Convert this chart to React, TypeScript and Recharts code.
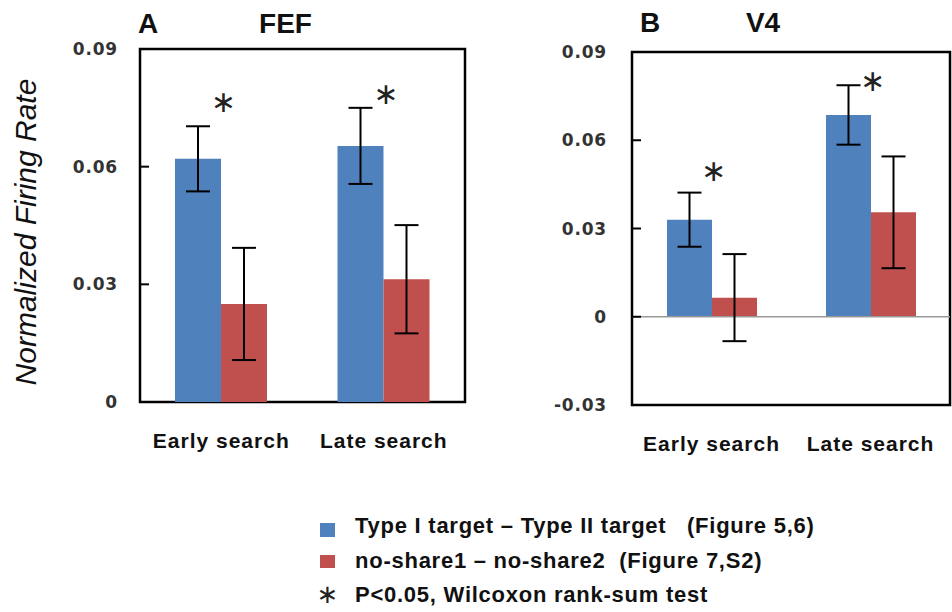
import React from 'react';
import {
  ComposedChart,
  Bar,
  XAxis,
  YAxis,
  ErrorBar,
  ReferenceArea,
  ReferenceLine,
  Line,
} from 'recharts';

const categories = ['Early search', 'Late search'];

const fefTypeDiff = [0.062, 0.0653];
const fefTypeErr = [0.0083, 0.0097];
const fefShareDiff = [0.025, 0.0313];
const fefShareErr = [0.0143, 0.0138];
const fefStar = [0.0762, 0.0783];

const v4TypeDiff = [0.033, 0.0686];
const v4TypeErr = [0.0092, 0.0101];
const v4ShareDiff = [0.0065, 0.0355];
const v4ShareErr = [0.0148, 0.019];
const v4Star = [0.0493, 0.0799];

const fefTicks = [0, 0.03, 0.06, 0.09];
const v4Ticks = [-0.03, 0, 0.03, 0.06, 0.09];

const legendLabels = [
  'Type I target \u2013 Type II target   (Figure 5,6)',
  'no-share1 \u2013 no-share2  (Figure 7,S2)',
  'P<0.05, Wilcoxon rank-sum test',
];

const BLUE = '#4F81BD';
const RED = '#C0504D';

const fefData = categories.map((cat, i) => ({
  cat,
  type: fefTypeDiff[i],
  typeErr: fefTypeErr[i],
  share: fefShareDiff[i],
  shareErr: fefShareErr[i],
  star: fefStar[i],
}));

const v4Data = categories.map((cat, i) => ({
  cat,
  type: v4TypeDiff[i],
  typeErr: v4TypeErr[i],
  share: v4ShareDiff[i],
  shareErr: v4ShareErr[i],
  star: v4Star[i],
}));

const fmt = (v: number) => (v === 0 ? '0' : v.toFixed(2));

const tickStyle = {
  fontFamily: '"DejaVu Sans", Verdana, sans-serif',
  fontWeight: 'bold',
  fontSize: 17,
  fill: '#333',
  letterSpacing: 0.8,
};

const catStyle = {
  fontFamily: '"Liberation Sans", Arial, sans-serif',
  fontWeight: 'bold',
  fontSize: 21,
  fill: '#111',
  letterSpacing: 1,
};

const STAR_FONT = '"DejaVu Sans", sans-serif';
const STAR_SIZE = 30;
const STAR_GLYPH = '\u2217';

const renderStar = (p: any) => {
  if (p.cx == null || p.cy == null) return <g key={p.index} />;
  return (
    <text
      key={p.index}
      x={p.cx + 2}
      y={p.cy + STAR_SIZE * 0.3}
      textAnchor="middle"
      fontSize={STAR_SIZE}
      fontFamily={STAR_FONT}
      fill="#222"
    >
      {STAR_GLYPH}
    </text>
  );
};

function Panel({
  data,
  ticks,
  domain,
  width,
  height,
  margin,
  barSize,
  tickMargin,
  zeroLine,
}: any) {
  return (
    <ComposedChart
      width={width}
      height={height}
      data={data}
      margin={margin}
      barGap={0}
      barSize={barSize}
    >
      <XAxis
        dataKey="cat"
        tickLine={false}
        axisLine={false}
        tickSize={0}
        tickMargin={31}
        height={50}
        tick={catStyle}
        interval={0}
      />
      <YAxis
        type="number"
        domain={domain}
        ticks={ticks}
        tickFormatter={fmt}
        width={60}
        axisLine={false}
        tickSize={-9}
        tickMargin={tickMargin}
        tickLine={{ stroke: '#000', strokeWidth: 2 }}
        tick={tickStyle}
        allowDataOverflow
      />
      {zeroLine ? <ReferenceLine y={0} stroke="#999" strokeWidth={1.5} /> : null}
      <Bar dataKey="type" fill={BLUE} isAnimationActive={false}>
        <ErrorBar dataKey="typeErr" width={12} stroke="#000" strokeWidth={2} />
      </Bar>
      <Bar dataKey="share" fill={RED} isAnimationActive={false}>
        <ErrorBar dataKey="shareErr" width={12} stroke="#000" strokeWidth={2} />
      </Bar>
      <Line
        dataKey="star"
        stroke="none"
        dot={renderStar}
        activeDot={false}
        isAnimationActive={false}
        legendType="none"
      />
      <ReferenceArea
        y1={domain[0]}
        y2={domain[1]}
        fill="none"
        fillOpacity={0}
        stroke="#000"
        strokeWidth={2.5}
        ifOverflow="visible"
      />
    </ComposedChart>
  );
}

export default function App() {
  const textFont = '"Liberation Sans", Arial, sans-serif';
  return (
    <div
      style={{
        position: 'absolute',
        left: 0,
        top: 0,
        width: 952,
        height: 612,
        background: '#fff',
        overflow: 'hidden',
      }}
    >
      <div style={{ position: 'absolute', left: 0, top: 0 }}>
        <Panel
          data={fefData}
          ticks={fefTicks}
          domain={[0, 0.09]}
          width={475}
          height={470}
          margin={{ top: 49, right: 10, left: 80, bottom: 18 }}
          barSize={46}
          tickMargin={31}
          zeroLine={false}
        />
      </div>
      <div style={{ position: 'absolute', left: 490, top: 0 }}>
        <Panel
          data={v4Data}
          ticks={v4Ticks}
          domain={[-0.03, 0.09]}
          width={462}
          height={470}
          margin={{ top: 52, right: 2, left: 82, bottom: 15 }}
          barSize={45}
          tickMargin={34}
          zeroLine={true}
        />
      </div>
      <svg
        width={952}
        height={612}
        style={{ position: 'absolute', left: 0, top: 0, pointerEvents: 'none' }}
      >
        <text x={138} y={33} fontFamily={textFont} fontWeight="bold" fontSize={28} fill="#111">
          A
        </text>
        <text x={285.5} y={33} textAnchor="middle" fontFamily={textFont} fontWeight="bold" fontSize={28} fill="#111">
          FEF
        </text>
        <text x={640} y={32} fontFamily={textFont} fontWeight="bold" fontSize={28} fill="#111">
          B
        </text>
        <text x={763} y={32} textAnchor="middle" fontFamily={textFont} fontWeight="bold" fontSize={28} fill="#111">
          V4
        </text>
        <text
          transform="translate(36,232) rotate(-90)"
          textAnchor="middle"
          fontFamily={textFont}
          fontStyle="italic"
          fontSize={30}
          fill="#111"
        >
          Normalized Firing Rate
        </text>
        <rect x={320} y={523} width={15} height={14} fill={BLUE} />
        <rect x={320} y={555} width={15} height={13} fill={RED} />
        <text
          x={327.5}
          y={595 + 26 * 0.3}
          textAnchor="middle"
          fontFamily={STAR_FONT}
          fontSize={26}
          fill="#222"
        >
          {STAR_GLYPH}
        </text>
        {legendLabels.map((t, i) => (
          <text
            key={i}
            x={355}
            y={533 + i * 34.5}
            fontFamily={textFont}
            fontWeight="bold"
            fontSize={22}
            letterSpacing={0.75}
            fill="#111"
            style={{ whiteSpace: 'pre' }}
          >
            {t}
          </text>
        ))}
      </svg>
    </div>
  );
}
